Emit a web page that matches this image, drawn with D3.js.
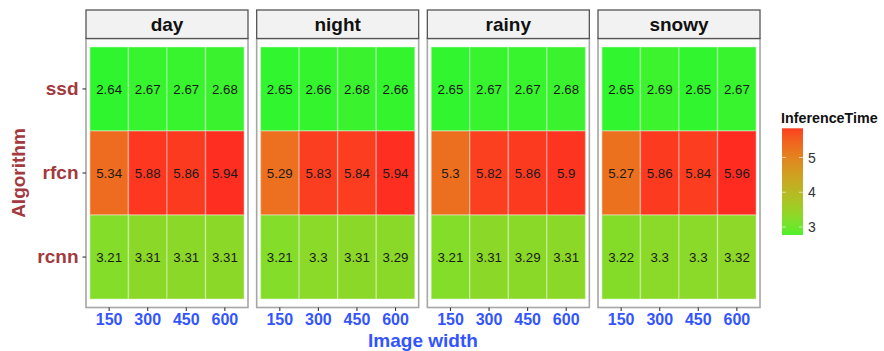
<!DOCTYPE html>
<html>
<head>
<meta charset="utf-8">
<script src="https://cdn.jsdelivr.net/npm/d3@7"></script>
<style>
  html, body { margin: 0; padding: 0; background: #fff; }
  svg { display: block; font-family: "Liberation Sans", Arial, Helvetica, sans-serif; }
</style>
</head>
<body>
<svg id="chart" width="884" height="351"></svg>
<script>
// Facets, categories and tick labels
const conditions = ["day", "night", "rainy", "snowy"];
const algorithms = ["ssd", "rfcn", "rcnn"];
const imageWidths = ["150", "300", "450", "600"];
const legendTicks = [3, 4, 5];

// Inference time per condition (rows) and image width (columns)
const ssdTimes = [
  [2.64, 2.67, 2.67, 2.68],
  [2.65, 2.66, 2.68, 2.66],
  [2.65, 2.67, 2.67, 2.68],
  [2.65, 2.69, 2.65, 2.67]
];
const rfcnTimes = [
  [5.34, 5.88, 5.86, 5.94],
  [5.29, 5.83, 5.84, 5.94],
  [5.3, 5.82, 5.86, 5.9],
  [5.27, 5.86, 5.84, 5.96]
];
const rcnnTimes = [
  [3.21, 3.31, 3.31, 3.31],
  [3.21, 3.3, 3.31, 3.29],
  [3.21, 3.31, 3.29, 3.31],
  [3.22, 3.3, 3.3, 3.32]
];

const seriesByAlgorithm = { ssd: ssdTimes, rfcn: rfcnTimes, rcnn: rcnnTimes };

// Long-format table for drawing
const cells = [];
conditions.forEach((cond, ci) => {
  algorithms.forEach(alg => {
    imageWidths.forEach((w, wi) => {
      cells.push({ condition: cond, algorithm: alg, width: w, value: seriesByAlgorithm[alg][ci][wi] });
    });
  });
});

const svg = d3.select("#chart");

const panelLeft = 86, panelW = 162, panelGap = 8.67;
const stripTop = 10, stripBottom = 38.5;
const panelTop = 38.5, panelBottom = 307.5;

const facetX = d3.scaleBand()
  .domain(conditions)
  .range([panelLeft, panelLeft + 4 * panelW + 3 * panelGap])
  .paddingInner(panelGap / (panelW + panelGap))
  .paddingOuter(0);

const x = d3.scaleBand().domain(imageWidths).range([0, panelW]).paddingOuter(0.1).paddingInner(0);
const y = d3.scaleBand().domain(algorithms).range([panelTop, panelBottom]).paddingOuter(0.1).paddingInner(0);

const extent = d3.extent(cells, d => d.value);
const color = d3.scaleLinear()
  .domain(extent)
  .range(["#2ef52e", "#ff2a20"])
  .interpolate(d3.interpolateLab);

const xColor = "#3355ff";
const yColor = "#a23a40";

// Panels
const panels = svg.selectAll("g.panel")
  .data(conditions)
  .join("g")
  .attr("class", "panel")
  .attr("transform", d => `translate(${facetX(d)},0)`);

panels.append("rect")
  .attr("x", 0).attr("y", panelTop)
  .attr("width", panelW).attr("height", panelBottom - panelTop)
  .attr("fill", "#fff");

panels.each(function(cond) {
  const g = d3.select(this);
  const data = cells.filter(c => c.condition === cond);
  g.selectAll("rect.tile")
    .data(data)
    .join("rect")
    .attr("class", "tile")
    .attr("x", d => x(d.width))
    .attr("y", d => y(d.algorithm))
    .attr("width", x.bandwidth())
    .attr("height", y.bandwidth())
    .attr("fill", d => color(d.value))
    .attr("stroke", "rgba(255,255,255,0.3)")
    .attr("stroke-width", 1.5);
  g.selectAll("text.val")
    .data(data)
    .join("text")
    .attr("class", "val")
    .attr("x", d => x(d.width) + x.bandwidth() / 2)
    .attr("y", d => y(d.algorithm) + y.bandwidth() / 2)
    .attr("dy", "0.36em")
    .attr("text-anchor", "middle")
    .attr("font-size", 13.3)
    .attr("fill", "#1a1a1a")
    .text(d => String(d.value));
});

// Panel borders
panels.append("rect")
  .attr("x", 0).attr("y", panelTop)
  .attr("width", panelW).attr("height", panelBottom - panelTop)
  .attr("fill", "none")
  .attr("stroke", "#a6a6a6")
  .attr("stroke-width", 1.6);

// Strips
panels.append("rect")
  .attr("x", 0).attr("y", stripTop)
  .attr("width", panelW).attr("height", stripBottom - stripTop)
  .attr("fill", "#f2f2f2")
  .attr("stroke", "#555")
  .attr("stroke-width", 1.3);

panels.append("text")
  .attr("x", panelW / 2)
  .attr("y", (stripTop + stripBottom) / 2)
  .attr("dy", "0.36em")
  .attr("text-anchor", "middle")
  .attr("font-size", 19)
  .attr("font-weight", "bold")
  .attr("fill", "#111")
  .text(d => d);

// Bottom axes per panel
panels.append("g")
  .attr("transform", `translate(0,${panelBottom})`)
  .each(function() {
    const ax = d3.select(this).call(d3.axisBottom(x).tickSize(3.5).tickPadding(2.5));
    ax.select(".domain").remove();
    ax.selectAll(".tick line").attr("stroke", "#333").attr("stroke-width", 1.1);
    ax.selectAll(".tick text")
      .attr("font-size", 16)
      .attr("font-weight", "bold")
      .attr("fill", xColor)
      .attr("font-family", "'Liberation Sans', Arial, sans-serif");
  });

// Left axis
const yAxis = svg.append("g")
  .attr("transform", `translate(${panelLeft},0)`)
  .call(d3.axisLeft(y).tickSize(3.5).tickPadding(4));
yAxis.select(".domain").remove();
yAxis.selectAll(".tick line").attr("stroke", "#333").attr("stroke-width", 1.1);
yAxis.selectAll(".tick text")
  .attr("font-size", 19)
  .attr("font-weight", "bold")
  .attr("fill", yColor)
  .attr("font-family", "'Liberation Sans', Arial, sans-serif");

// Axis titles
svg.append("text")
  .attr("x", (facetX.range()[0] + facetX.range()[1]) / 2)
  .attr("y", 346.8)
  .attr("text-anchor", "middle")
  .attr("font-size", 19)
  .attr("font-weight", "bold")
  .attr("fill", xColor)
  .text("Image width");

svg.append("text")
  .attr("transform", `translate(24.5,${(panelTop + panelBottom) / 2}) rotate(-90)`)
  .attr("text-anchor", "middle")
  .attr("font-size", 19)
  .attr("font-weight", "bold")
  .attr("fill", yColor)
  .text("Algorithm");

// Colour bar legend
const barX = 782, barW = 21, barTop = 128.3, barBottom = 235;
const legendY = d3.scaleLinear().domain([3, 5]).range([227, 157.5]);

svg.append("text")
  .attr("x", 781).attr("y", 123)
  .attr("font-size", 14.3)
  .attr("font-weight", "bold")
  .attr("fill", "#111")
  .text("InferenceTime");

const defs = svg.append("defs");
const grad = defs.append("linearGradient")
  .attr("id", "legendGrad")
  .attr("x1", 0).attr("y1", 1).attr("x2", 0).attr("y2", 0);
const vBottom = legendY.invert(barBottom), vTop = legendY.invert(barTop);
d3.range(0, 1.0001, 0.05).forEach(t => {
  const v = Math.max(extent[0], Math.min(extent[1], vBottom + t * (vTop - vBottom)));
  grad.append("stop").attr("offset", t).attr("stop-color", color(v));
});

svg.append("rect")
  .attr("x", barX).attr("y", barTop)
  .attr("width", barW).attr("height", barBottom - barTop)
  .attr("fill", "url(#legendGrad)");

const lt = svg.append("g").selectAll("g").data(legendTicks).join("g");
lt.append("line")
  .attr("x1", barX).attr("x2", barX + 4)
  .attr("y1", d => legendY(d)).attr("y2", d => legendY(d))
  .attr("stroke", "rgba(255,255,255,0.6)");
lt.append("line")
  .attr("x1", barX + barW - 4).attr("x2", barX + barW)
  .attr("y1", d => legendY(d)).attr("y2", d => legendY(d))
  .attr("stroke", "rgba(255,255,255,0.6)");
lt.append("text")
  .attr("x", barX + barW + 5)
  .attr("y", d => legendY(d))
  .attr("dy", "0.36em")
  .attr("font-size", 14)
  .attr("fill", "#333")
  .text(d => d);
</script>
</body>
</html>
